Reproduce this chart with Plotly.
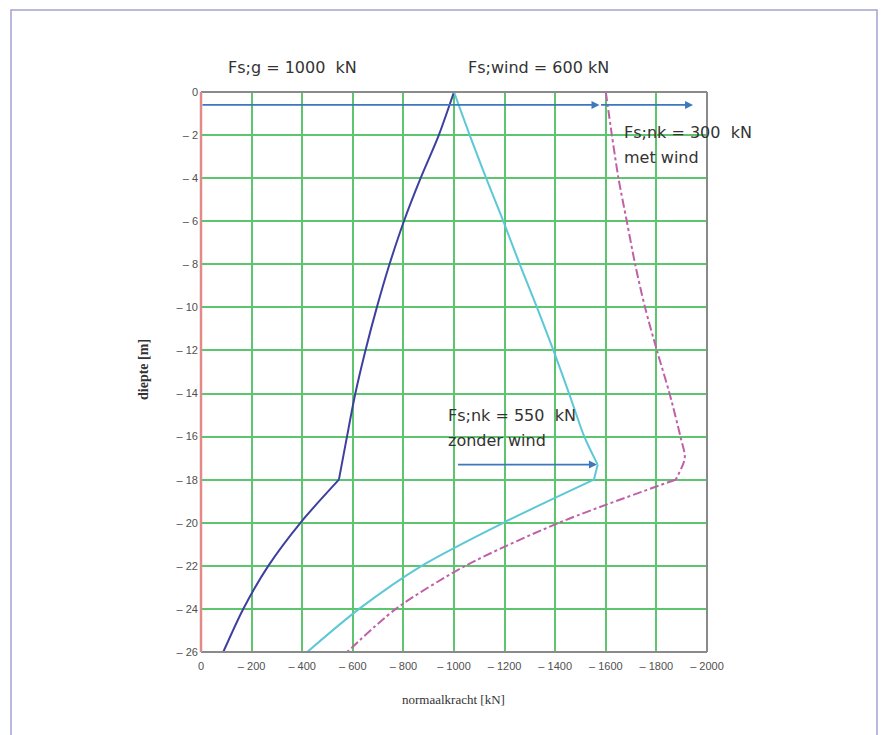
import plotly.graph_objects as go

# ---- data ----
depth_g = [0, -2, -4, -6, -8, -10, -12, -14, -16, -18, -20, -22, -24, -26]
force_g = [1000, 940, 868, 802, 745, 695, 650, 610, 577, 545, 393, 266, 167, 88]
kinks_g = [9]

depth_nk = [0, -2, -4, -6, -8, -10, -12, -14, -16, -17.3, -18, -20, -22, -24, -26]
force_nk = [1000, 1062, 1127, 1195, 1260, 1328, 1393, 1455, 1515, 1568, 1553, 1195, 872, 625, 420]
kinks_nk = [9, 10]

depth_wind = [0, -2, -4, -6, -8, -10, -12, -14, -16, -17, -18, -20, -22, -24, -26]
force_wind = [1600, 1624, 1650, 1683, 1716, 1755, 1802, 1852, 1895, 1912, 1876, 1415, 1045, 770, 578]
kinks_wind = [10]

x_ticks = [0, 200, 400, 600, 800, 1000, 1200, 1400, 1600, 1800, 2000]
x_ticklabels = ["0"] + ["\u2013 %d" % v for v in x_ticks[1:]]
y_ticks = list(range(0, -27, -2))
y_ticklabels = ["0"] + ["\u2013 %d" % (-v) for v in y_ticks[1:]]

top_arrow_y = -0.6
top_arrow_x = [0, 1575, 1945]
low_arrow_y = -17.3
low_arrow_x = [1010, 1565]

GRID = "#5cc56e"
TXT = "#333333"

# plot area in pixels
L, R, T, B = 201, 707, 92, 652


def px(xp):
    return (xp - L) / (R - L)


def py(yp):
    return (B - yp) / (B - T)


fig = go.Figure()


def add_curve(xs, ys, kinks, line):
    idx = [0] + kinks + [len(xs) - 1]
    for a, b in zip(idx[:-1], idx[1:]):
        fig.add_trace(go.Scatter(x=xs[a:b + 1], y=ys[a:b + 1], mode="lines",
                                 line=dict(shape="spline", smoothing=0.8, **line),
                                 showlegend=False, hoverinfo="skip"))


add_curve(force_g, depth_g, kinks_g, dict(color="#3f3fa0", width=2))
add_curve(force_nk, depth_nk, kinks_nk, dict(color="#5cc8d6", width=2))
add_curve(force_wind, depth_wind, kinks_wind, dict(color="#c060a8", width=2, dash="dashdot"))

ann = []
for x0, x1, y in [(top_arrow_x[0], top_arrow_x[1], top_arrow_y),
                  (top_arrow_x[1], top_arrow_x[2], top_arrow_y),
                  (low_arrow_x[0], low_arrow_x[1], low_arrow_y)]:
    ann.append(dict(x=x1, y=y, ax=x0, ay=y, xref="x", yref="y", axref="x", ayref="y",
                    showarrow=True, arrowhead=2, arrowsize=1, arrowwidth=1.6,
                    arrowcolor="#3d78bd", text=""))


def label(text, xpix, ypix, size=16):
    ann.append(dict(x=px(xpix), y=py(ypix), xref="paper", yref="paper", text=text,
                    showarrow=False, xanchor="left", yanchor="middle",
                    font=dict(family="DejaVu Sans", size=size, color=TXT)))


label("Fs;g = 1000  kN", 226, 68)
label("Fs;wind = 600 kN", 466, 68)
label("Fs;nk = 300  kN", 622, 133)
label("met wind", 622, 157)
label("Fs;nk = 550  kN", 446, 416)
label("zonder wind", 446, 440)

ann.append(dict(x=px(143), y=py(370), xref="paper", yref="paper", text="<b>diepte [m]</b>",
                textangle=-90, showarrow=False, xanchor="center", yanchor="middle",
                font=dict(family="Liberation Serif, Times New Roman", size=14, color=TXT)))
ann.append(dict(x=px(453), y=py(699), xref="paper", yref="paper", text="normaalkracht [kN]",
                showarrow=False, xanchor="center", yanchor="middle",
                font=dict(family="Liberation Serif, Times New Roman", size=13, color=TXT)))

shapes = [
    dict(type="line", xref="paper", yref="paper", x0=0, x1=1, y0=1, y1=1,
         line=dict(color="#8a8a8a", width=2)),
    dict(type="line", xref="paper", yref="paper", x0=1, x1=1, y0=0, y1=1,
         line=dict(color="#8a8a8a", width=2)),
    dict(type="line", xref="paper", yref="paper", x0=0, x1=1, y0=0, y1=0,
         line=dict(color="#8a8a8a", width=2)),
    dict(type="line", xref="paper", yref="paper", x0=0, x1=0, y0=0, y1=1,
         line=dict(color="#e08a8a", width=2.5)),
    dict(type="rect", xref="paper", yref="paper",
         x0=px(11), x1=px(877), y0=py(745), y1=py(10),
         line=dict(color="#a2a2d2", width=1.5), layer="below"),
]

fig.update_layout(
    width=882, height=735,
    margin=dict(l=L, r=882 - R, t=T, b=735 - B),
    paper_bgcolor="white", plot_bgcolor="white",
    annotations=ann, shapes=shapes,
    xaxis=dict(range=[0, 2000], tickmode="array", tickvals=x_ticks, ticktext=x_ticklabels,
               showgrid=True, gridcolor=GRID, gridwidth=2, zeroline=False, showline=False,
               ticks="", ticklabelstandoff=6,
               tickfont=dict(family="Liberation Sans, Arial", size=11, color="#505050")),
    yaxis=dict(range=[-26, 0], tickmode="array", tickvals=y_ticks, ticktext=y_ticklabels,
               showgrid=True, gridcolor=GRID, gridwidth=2, zeroline=False, showline=False,
               ticks="", ticklabelstandoff=2,
               tickfont=dict(family="Liberation Sans, Arial", size=11, color="#505050")),
)

fig.write_html("out.html")
